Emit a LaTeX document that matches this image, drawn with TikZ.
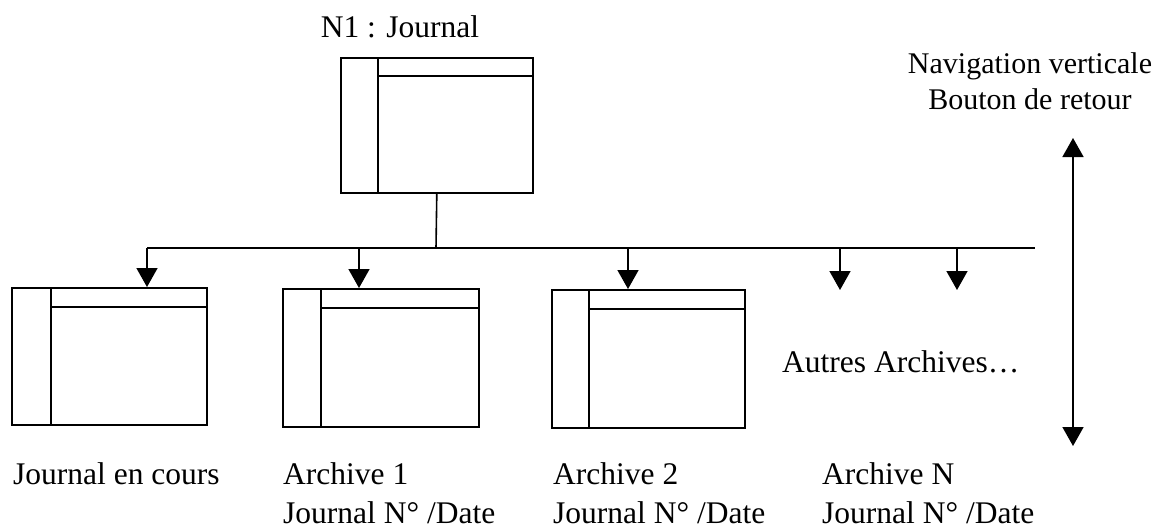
\documentclass[tikz,border=0pt]{standalone}
\usepackage{fontspec}
\setmainfont{Liberation Serif}
\usetikzlibrary{arrows.meta,calc}
\tikzset{
  win/.style={draw, rectangle, inner sep=0pt, anchor=north west, minimum width=195pt, minimum height=137pt, line width=1.6pt},
  wline/.style={line width=1.6pt},
  conn/.style={line width=1.6pt},
  arr/.style={line width=1.6pt, -{Triangle[width=21pt,length=19pt]}},
  darr/.style={line width=1.6pt, {Triangle[width=21pt,length=19pt]}-{Triangle[width=21pt,length=19pt]}},
  lbl/.style={inner sep=0pt, font=\fontsize{31.5}{38}\selectfont},
  navlbl/.style={inner sep=0pt, font=\fontsize{30}{36}\selectfont}
}
\begin{document}
\begin{tikzpicture}[x=1pt,y=-1pt]
\useasboundingbox (0,0) rectangle (1169,530);
% windows
\node[win, minimum width=192pt, minimum height=135pt] (top) at (340,57) {};
\node[win] (b1) at (11,287) {};
\node[win, minimum width=196pt, minimum height=138pt] (b2) at (282,288) {};
\node[win, minimum width=193pt, minimum height=138pt] (b3) at (551,289) {};
% inner lines of windows
\foreach \w/\dx/\dy in {top/38/19, b1/40/20, b2/39/20, b3/38/20}{
  \draw[wline] ($(\w.north west)+(\dx,0)$) -- ($(\w.south west)+(\dx,0)$);
  \draw[wline] ($(\w.north west)+(\dx,\dy)$) -- ($(\w.north east)+(0,\dy)$);
}
% bus
\coordinate (busL) at (147,248);
\coordinate (busR) at (1035,248);
\coordinate (busM) at (436,248);
\coordinate (c2) at (359,248);
\coordinate (c3) at (628,248);
\coordinate (c4) at (840,248);
\coordinate (c5) at (957,248);
\coordinate (t4) at (840,290);
\coordinate (t5) at (957,290);
\draw[conn] (top.south) -- (busM);
\draw[conn] (busL) -- (busR);
\draw[arr] (busL) -- (busL |- b1.north);
\draw[arr] (c2) -- (c2 |- b2.north);
\draw[arr] (c3) -- (c3 |- b3.north);
\draw[arr] (c4) -- (t4);
\draw[arr] (c5) -- (t5);
% vertical navigation arrow
\coordinate (vtop) at (1073,138);
\coordinate (vbot) at (1073,446);
\draw[darr] (vtop) -- (vbot);
% labels
\node[lbl, anchor=base] (ttl) at (400,37) {N1 : Journal};
\node[navlbl, anchor=base] (nav1) at (1030,73) {Navigation verticale};
\node[navlbl, anchor=base] (nav2) at (1030,109) {Bouton de retour};
\node[lbl, anchor=base west] (autres) at (782,372) {Autres Archives…};
\node[lbl, anchor=base west] (l1) at (13,484) {Journal en cours};
\node[lbl, anchor=base west] (l2a) at (283,484) {Archive 1};
\node[lbl, anchor=base west] (l2b) at (283,523) {Journal N° /Date};
\node[lbl, anchor=base west] (l3a) at (553,484) {Archive 2};
\node[lbl, anchor=base west] (l3b) at (553,523) {Journal N° /Date};
\node[lbl, anchor=base west] (l4a) at (822,484) {Archive N};
\node[lbl, anchor=base west] (l4b) at (822,523) {Journal N° /Date};
\end{tikzpicture}
\end{document}
